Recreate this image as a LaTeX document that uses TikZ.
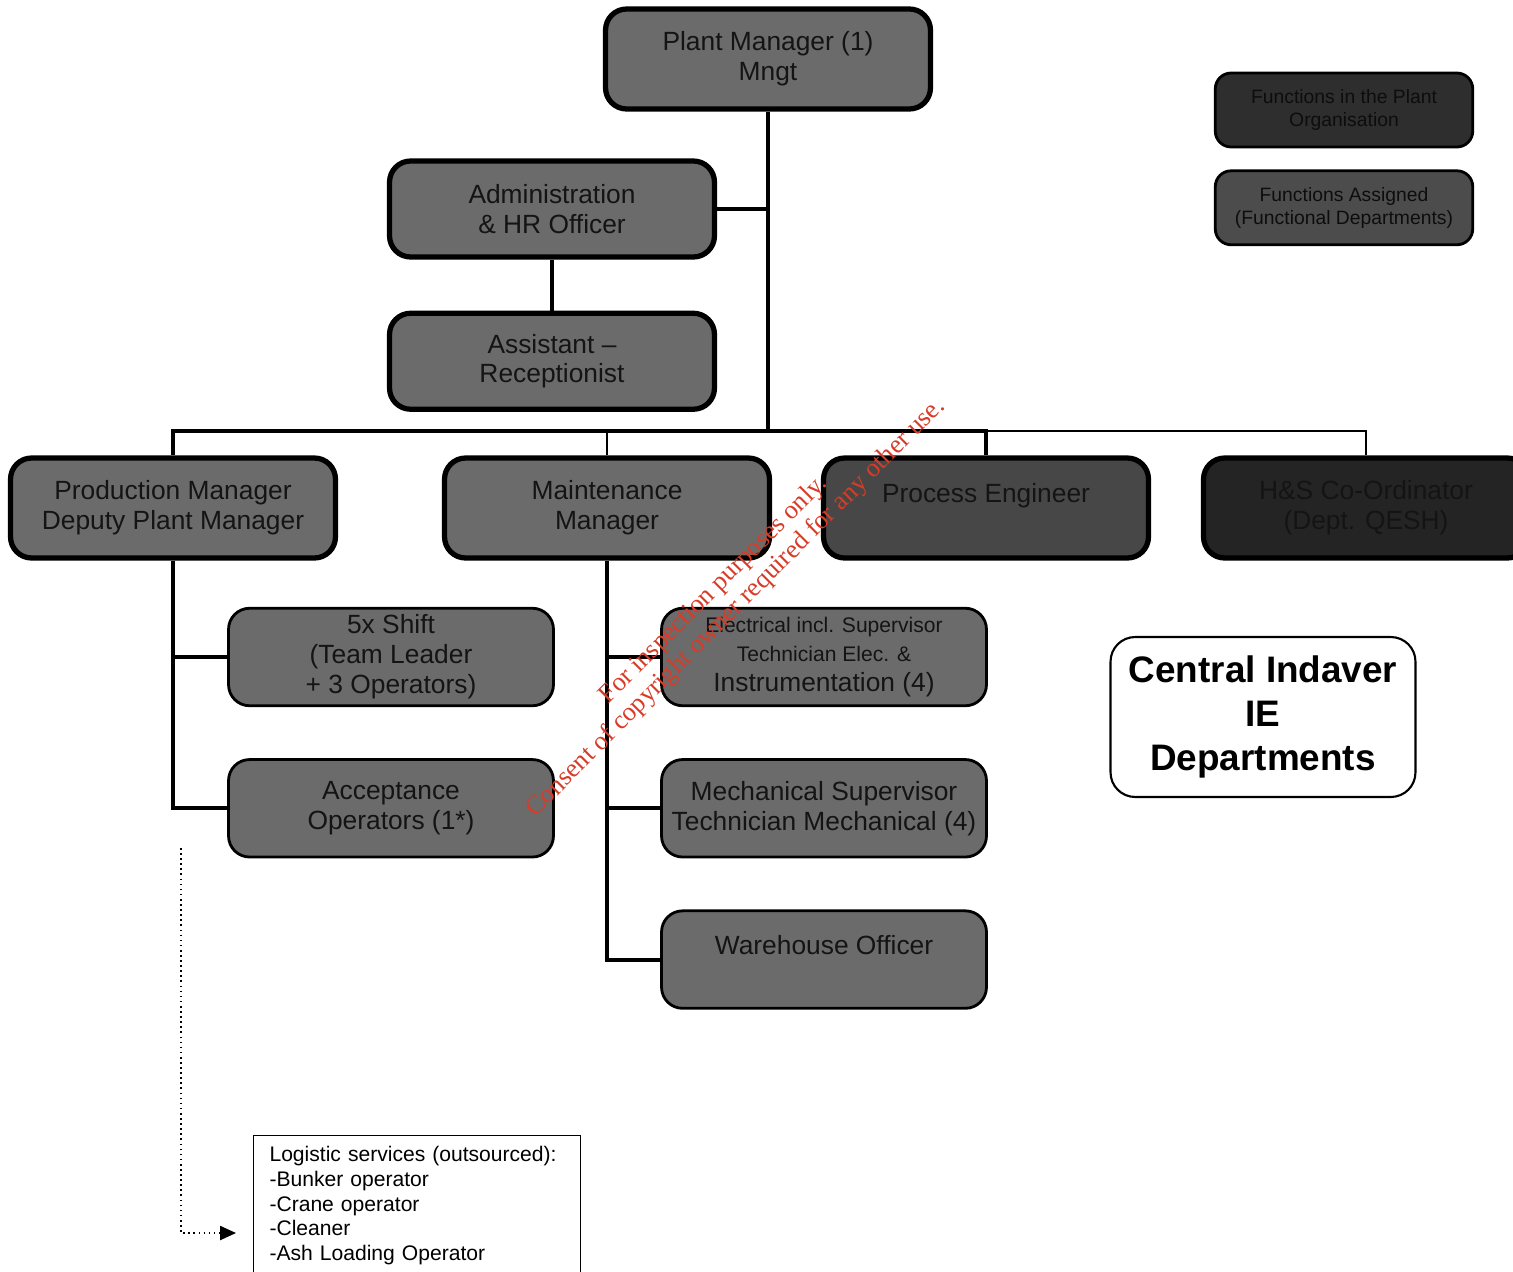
\documentclass[tikz,border=0pt]{standalone}
\usepackage{fontspec}
\setmainfont{Liberation Sans}
\newfontfamily\wmfont{Liberation Serif}
\definecolor{wmred}{RGB}{215,60,40}
\newcommand{\rolesmall}{\fontsize{12}{14}\selectfont}
\usetikzlibrary{arrows.meta,positioning,calc}
\tikzset{
	role/.style={
		rectangle,
		rounded corners=12pt,
		draw=black,
		line width=3pt,
		fill=black!58,
		align=center,
		font=\fontsize{15}{17}\selectfont\color{black!92},
		minimum width=6.5cm,
		minimum height=2cm,
	},
	subrole/.style={
		role,
		line width=1.6pt,
		minimum height=1.95cm,
	},
	legend/.style={
		role,
		line width=1.6pt,
		rounded corners=9pt,
		minimum width=5.15cm,
		minimum height=1.48cm,
		font=\fontsize{11}{13}\selectfont\color{black!95},
	},
	deptbox/.style={
		rectangle,
		rounded corners=14pt,
		draw=black,
		line width=1.2pt,
		fill=white,
		align=center,
		minimum width=6.1cm,
		minimum height=3.2cm,
		font=\fontsize{21}{25}\selectfont\bfseries,
	},
	note/.style={
		rectangle,
		draw=black,
		line width=0.6pt,
		align=left,
		anchor=north west,
		text width=5.9cm,
		inner xsep=0.32cm,
		inner ysep=0.22cm,
		font=\fontsize{12}{14}\selectfont,
	},
	orgline/.style={
		line width=2.2pt,
	},
	thinline/.style={
		line width=0.6pt,
	},
	outsrc/.style={
		dotted,
		line width=0.9pt,
		-{Triangle[length=9pt,width=8pt]},
	},
	stamp/.style={
		rotate=45,
		text=wmred,
		font=\wmfont\fontsize{15}{17}\selectfont,
	},
}
\begin{document}
\begin{tikzpicture}[x=0.02cm,y=-0.02cm]
	\useasboundingbox (0,0) rectangle (1513,1271);
	\clip (0,0) rectangle (1513,1271);
	% top of the chart
	\node[role] (plant) at (768,59) {Plant Manager (1)\\ Mngt};
	\node[role,minimum height=1.92cm] (admin) at (552,209) {Administration\\ \& HR Officer};
	\node[role,minimum height=1.92cm,below=1.02cm of admin] (assist) {Assistant --\\ Receptionist};
	\coordinate (bus) at (768,431);

	% departments
	\node[role] (prod) at (173,508) {Production Manager\\ Deputy Plant Manager};
	\node[role] (maint) at (607,508) {Maintenance\\ Manager};
	\node[role,fill=black!72] (proc) at (986,508) {Process Engineer\\ ~};
	\node[role,fill=black!86] (hse) at (1366,508) {H\&S Co-Ordinator\\ (Dept. QESH)};

	\node[subrole] (shift) at (391,657) {5x Shift\\ (Team Leader\\ + 3 Operators)};
	\node[subrole,below=1.02cm of shift] (accept) {Acceptance\\ Operators (1*)};
	\node[subrole] (elec) at (824,657) {{\rolesmall Electrical incl. Supervisor}\\ {\rolesmall Technician Elec. \&}\\ Instrumentation (4)};
	\node[subrole,below=1.02cm of elec] (mech) {Mechanical Supervisor\\ Technician Mechanical (4)};
	\node[subrole,below=1.02cm of mech] (ware) {Warehouse Officer\\ ~};

	% legend and notes
	\node[legend,fill=black!82] (leg1) at (1344,110) {Functions in the Plant\\ Organisation};
	\node[legend,fill=black!70,below=0.42cm of leg1] (leg2) {Functions Assigned\\ (Functional Departments)};
	\node[deptbox] (central) at (1263,717) {Central Indaver\\ IE\\ Departments};
	\node[note] (logi) at (253,1135) {Logistic services (outsourced):\\ -Bunker operator\\ -Crane operator\\ -Cleaner\\ -Ash Loading Operator};
	\coordinate (dotstart) at (181,848);
	\coordinate (dotend) at (236,1233);

	% reporting lines
	\draw[orgline] (plant.south) -- (bus);
	\draw[orgline] (admin.east) -- (admin.east -| bus);
	\draw[orgline] (admin.south) -- (assist.north);
	\draw[orgline] (prod.north) -- (prod.north |- bus) -- (proc.north |- bus) -- (proc.north);
	\draw[thinline] (maint.north) -- (maint.north |- bus);
	\draw[thinline] (proc.north |- bus) -- (hse.north |- bus) -- (hse.north);
	\draw[orgline] (prod.south) |- (accept.west);
	\draw[orgline] (prod.south |- shift.west) -- (shift.west);
	\draw[orgline] (maint.south) |- (ware.west);
	\draw[orgline] (maint.south |- elec.west) -- (elec.west);
	\draw[orgline] (maint.south |- mech.west) -- (mech.west);
	\draw[outsrc] (dotstart) |- (dotend);

	% stamp across the chart
	\node[stamp] (stamp1) at (714,590) {For inspection purposes only.};
	\node[stamp] (stamp2) at (736,608) {Consent of copyright owner required for any other use.};
\end{tikzpicture}
\end{document}
